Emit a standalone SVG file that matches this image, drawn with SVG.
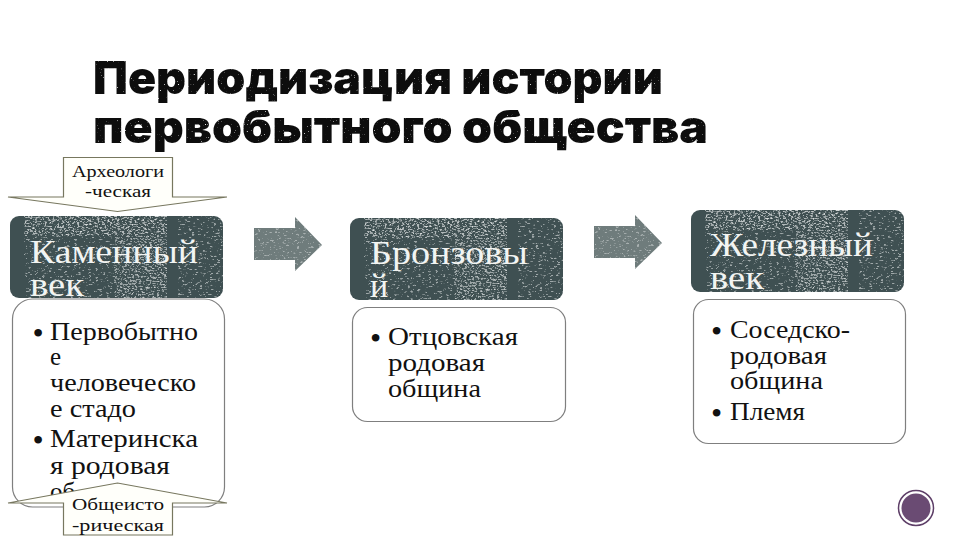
<svg xmlns="http://www.w3.org/2000/svg" xmlns:xlink="http://www.w3.org/1999/xlink" width="960" height="540" viewBox="0 0 960 540">
<style>
.title{font-family:"Inter","DejaVu Sans",sans-serif;font-weight:900;font-size:46px;fill:#111}
.hd{font-family:"Liberation Serif","DejaVu Serif",serif;font-size:34px;fill:#f2f4f2}
.bd{font-family:"Liberation Serif","DejaVu Serif",serif;font-size:25px;fill:#111}
.bu{font-size:32px}
.cl{font-family:"Liberation Serif","DejaVu Serif",serif;font-size:17px;fill:#111;text-anchor:middle}
.box{fill:#fff;stroke:#7f7f7f;stroke-width:1.2}
.call{fill:#fffffa;stroke:#77775f;stroke-width:1.2}
.arrow{fill:#6f7c7c}
</style>
<defs>
<filter id="speck" x="0" y="0" width="1" height="1">
<feTurbulence type="fractalNoise" baseFrequency="0.28 0.6" numOctaves="3" seed="7" result="n"/>
<feColorMatrix in="n" type="matrix" values="0 0 0 0 1  0 0 0 0 1  0 0 0 0 1  0 0 0 8 -4.9" result="s"/>
<feComposite in="s" in2="SourceAlpha" operator="in"/>
</filter>
<filter id="speck2" x="0" y="0" width="1" height="1">
<feTurbulence type="fractalNoise" baseFrequency="0.4 0.7" numOctaves="3" seed="21" result="n"/>
<feColorMatrix in="n" type="matrix" values="0 0 0 0 1  0 0 0 0 1  0 0 0 0 1  0 0 0 8 -4.3" result="s"/>
<feComposite in="s" in2="SourceAlpha" operator="in"/>
</filter>
<filter id="grit" x="-2%" y="-10%" width="104%" height="120%">
<feTurbulence type="fractalNoise" baseFrequency="0.7" numOctaves="2" seed="3" result="n"/>
<feColorMatrix in="n" type="matrix" values="0 0 0 0 1  0 0 0 0 1  0 0 0 0 1  0 0 0 6 -4.3" result="s"/>
<feComposite in="SourceGraphic" in2="s" operator="out"/>
</filter>
<g id="hdr">
<rect x="0" y="0" width="213" height="82" rx="9" fill="#3f5052"/>
<rect x="14" y="0" width="199" height="82" rx="6" fill="#fff" filter="url(#speck)" opacity=".5"/>
<rect x="14" y="0" width="143" height="20" fill="#fff" filter="url(#speck2)" opacity=".6"/>
<rect x="105" y="20" width="52" height="62" fill="#fff" filter="url(#speck2)" opacity=".5"/>
<rect x="157" y="0" width="11" height="82" fill="#3f5052"/>
</g>
<g id="blockarrow">
<path d="M0 11H41V0L68 28L41 54V43H0Z" class="arrow"/>
<path d="M0 11H41V0L68 28L41 54V43H0Z" fill="#fff" filter="url(#speck)" opacity=".4"/>
</g>
</defs>
<rect width="960" height="540" fill="#fff"/>
<g id="title" filter="url(#grit)">
<text class="title" x="93" y="94" textLength="570" lengthAdjust="spacingAndGlyphs">Периодизация истории</text>
<text class="title" x="93" y="143" textLength="615" lengthAdjust="spacingAndGlyphs">первобытного общества</text>
</g>
<g id="connectors">
<use xlink:href="#blockarrow" href="#blockarrow" transform="translate(254 217)"/>
<use xlink:href="#blockarrow" href="#blockarrow" transform="translate(594 215)"/>
</g>
<g id="node-stone">
<use xlink:href="#hdr" href="#hdr" transform="translate(10 216)"/>
<text class="hd" x="30" y="263" textLength="168" lengthAdjust="spacingAndGlyphs">Каменный</text>
<text class="hd" x="30" y="296" textLength="54" lengthAdjust="spacingAndGlyphs">век</text>
<rect class="box" x="12.500" y="299" width="212" height="208" rx="20"/>
<g class="bd">
<text class="bu" x="32.500" y="343.500">•</text><text x="50" y="340" textLength="148" lengthAdjust="spacingAndGlyphs">Первобытно</text>
<text x="50" y="365">е</text>
<text x="50" y="391" textLength="146" lengthAdjust="spacingAndGlyphs">человеческо</text>
<text x="50" y="417" textLength="86" lengthAdjust="spacingAndGlyphs">е стадо</text>
<text class="bu" x="32.500" y="450.500">•</text><text x="50" y="447" textLength="148" lengthAdjust="spacingAndGlyphs">Материнска</text>
<text x="50" y="474" textLength="120" lengthAdjust="spacingAndGlyphs">я родовая</text>
<text x="50" y="500">об</text>
</g>
</g>
<g id="node-bronze">
<use xlink:href="#hdr" href="#hdr" transform="translate(350 218)"/>
<text class="hd" x="370" y="264" textLength="158" lengthAdjust="spacingAndGlyphs">Бронзовы</text>
<text class="hd" x="370" y="297">й</text>
<rect class="box" x="352.500" y="307.500" width="213" height="114" rx="15"/>
<g class="bd">
<text class="bu" x="370" y="348.500">•</text><text x="388" y="345" textLength="130" lengthAdjust="spacingAndGlyphs">Отцовская</text>
<text x="388" y="371" textLength="97" lengthAdjust="spacingAndGlyphs">родовая</text>
<text x="388" y="397" textLength="93" lengthAdjust="spacingAndGlyphs">община</text>
</g>
</g>
<g id="node-iron">
<use xlink:href="#hdr" href="#hdr" transform="translate(691 210)"/>
<text class="hd" x="710" y="256" textLength="163" lengthAdjust="spacingAndGlyphs">Железный</text>
<text class="hd" x="710" y="289" textLength="54" lengthAdjust="spacingAndGlyphs">век</text>
<rect class="box" x="693.500" y="299.500" width="212" height="144" rx="15"/>
<g class="bd">
<text class="bu" x="711" y="341.500">•</text><text x="730" y="338" textLength="120" lengthAdjust="spacingAndGlyphs">Соседско-</text>
<text x="730" y="364" textLength="97" lengthAdjust="spacingAndGlyphs">родовая</text>
<text x="730" y="389" textLength="93" lengthAdjust="spacingAndGlyphs">община</text>
<text class="bu" x="711" y="423.500">•</text><text x="730" y="420" textLength="75" lengthAdjust="spacingAndGlyphs">Племя</text>
</g>
</g>
<g id="callout-top">
<path class="call" d="M63.500 157.500H172.500V197H227L117.500 211.500L8 197H63.500Z"/>
<text class="cl" x="118" y="177" textLength="92" lengthAdjust="spacingAndGlyphs">Археологи</text>
<text class="cl" x="118" y="197" textLength="66" lengthAdjust="spacingAndGlyphs">-ческая</text>
</g>
<g id="callout-bottom">
<path class="call" d="M63.500 535H172.500V503H227L117.500 483L8 503H63.500Z"/>
<text class="cl" x="118" y="510" textLength="92" lengthAdjust="spacingAndGlyphs">Общеисто</text>
<text class="cl" x="118" y="531" textLength="92" lengthAdjust="spacingAndGlyphs">-рическая</text>
</g>
<g id="page-badge">
<circle cx="916" cy="508" r="17.500" fill="#fff" stroke="#5e3f68" stroke-width="1.500"/>
<circle cx="916" cy="508" r="14.500" fill="#6a4b73"/>
</g>
</svg>
